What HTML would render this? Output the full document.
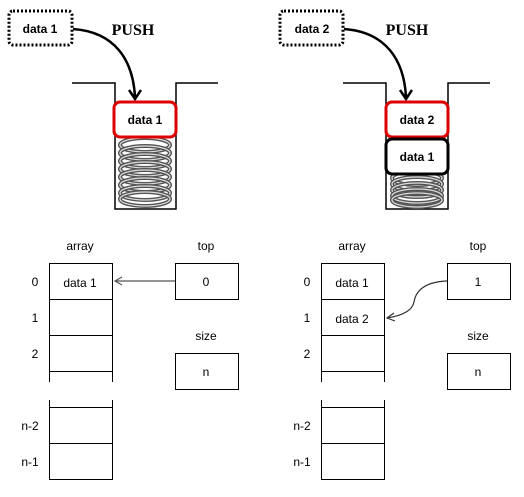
<!DOCTYPE html>
<html><head><meta charset="utf-8"><style>
html,body{margin:0;padding:0;background:#fff}
svg{display:block}
text{font-family:"Liberation Sans","DejaVu Sans",sans-serif}
</style></head><body>
<svg width="524" height="497" viewBox="0 0 524 497" xmlns="http://www.w3.org/2000/svg">
<defs>
<g id="coil"><ellipse cx="0" cy="0" rx="25" ry="7" fill="none" stroke="#555" stroke-width="4"/><ellipse cx="0" cy="0" rx="25" ry="7" fill="none" stroke="#ddd" stroke-width="1.2"/></g>
</defs>
<!-- LEFT TOP -->
<rect x="9" y="11" width="63" height="34" rx="4" fill="#fff" stroke="#000" stroke-width="3" stroke-dasharray="2,2"/>
<text x="40" y="33" font-size="12" font-weight="bold" text-anchor="middle">data 1</text>
<text x="133" y="35" font-size="16" font-weight="bold" text-anchor="middle" style="font-family:'Liberation Serif',serif">PUSH</text>
<path d="M73,29 C115,32 133,60 135,97" fill="none" stroke="#000" stroke-width="2.5"/>
<path d="M129,90 L135,99 L141,90" fill="none" stroke="#000" stroke-width="2.5"/>
<path d="M72,83 H115 V209 H176 V83 H218" fill="none" stroke="#000" stroke-width="1.5"/>
<g transform="translate(145,0)">
<use href="#coil" y="145"/><use href="#coil" y="153"/><use href="#coil" y="161"/><use href="#coil" y="169"/><use href="#coil" y="177"/><use href="#coil" y="185"/><use href="#coil" y="193"/><use href="#coil" y="199"/>
</g>
<rect x="114" y="102" width="62" height="35" rx="6" fill="#fff" stroke="#d00" stroke-width="3"/>
<text x="145" y="124" font-size="12" font-weight="bold" text-anchor="middle">data 1</text>
<!-- RIGHT TOP -->
<rect x="280" y="11" width="63" height="34" rx="4" fill="#fff" stroke="#000" stroke-width="3" stroke-dasharray="2,2"/>
<text x="312" y="33" font-size="12" font-weight="bold" text-anchor="middle">data 2</text>
<text x="407" y="35" font-size="16" font-weight="bold" text-anchor="middle" style="font-family:'Liberation Serif',serif">PUSH</text>
<path d="M344,29 C386,32 404,60 406,97" fill="none" stroke="#000" stroke-width="2.5"/>
<path d="M400,90 L406,99 L412,90" fill="none" stroke="#000" stroke-width="2.5"/>
<path d="M343,83 H386 V209 H448 V83 H490" fill="none" stroke="#000" stroke-width="1.5"/>
<g transform="translate(417,0)">
<use href="#coil" y="178"/><use href="#coil" y="184"/><use href="#coil" y="190"/><use href="#coil" y="196"/><use href="#coil" y="200"/>
</g>
<rect x="386" y="102" width="62" height="35" rx="6" fill="#fff" stroke="#d00" stroke-width="3"/>
<text x="417" y="124" font-size="12" font-weight="bold" text-anchor="middle">data 2</text>
<rect x="386" y="139" width="62" height="35" rx="6" fill="#fff" stroke="#000" stroke-width="3"/>
<text x="417" y="161" font-size="12" font-weight="bold" text-anchor="middle">data 1</text>
<!-- BOTTOM LEFT -->
<g font-size="12" fill="#000">
<text x="80" y="250" text-anchor="middle">array</text>
<text x="206" y="250" text-anchor="middle">top</text>
<text x="206" y="340" text-anchor="middle">size</text>
<text x="35" y="286" text-anchor="middle">0</text>
<text x="35" y="322" text-anchor="middle">1</text>
<text x="35" y="358" text-anchor="middle">2</text>
<text x="30" y="430" text-anchor="middle">n-2</text>
<text x="30" y="466" text-anchor="middle">n-1</text>
<text x="80" y="287" text-anchor="middle">data 1</text>
<text x="206" y="286" text-anchor="middle">0</text>
<text x="206" y="376" text-anchor="middle">n</text>
</g>
<g fill="none" stroke="#000" stroke-width="1">
<path d="M49.5,382 V263.5 H112.5 V382 M49.5,299.5 H112.5 M49.5,335.5 H112.5 M49.5,371.5 H112.5"/>
<path d="M49.5,400 V479.5 H112.5 V400 M49.5,407.5 H112.5 M49.5,443.5 H112.5"/>
<rect x="175.5" y="263.5" width="63" height="36"/>
<rect x="175.5" y="353.5" width="63" height="36"/>
<path d="M175,281 H116 M122,277 L115,281 L122,285" stroke="#555" stroke-width="1.2"/>
</g>
<!-- BOTTOM RIGHT -->
<g font-size="12" fill="#000">
<text x="352" y="250" text-anchor="middle">array</text>
<text x="478" y="250" text-anchor="middle">top</text>
<text x="478" y="340" text-anchor="middle">size</text>
<text x="307" y="286" text-anchor="middle">0</text>
<text x="307" y="322" text-anchor="middle">1</text>
<text x="307" y="358" text-anchor="middle">2</text>
<text x="302" y="430" text-anchor="middle">n-2</text>
<text x="302" y="466" text-anchor="middle">n-1</text>
<text x="352" y="287" text-anchor="middle">data 1</text>
<text x="352" y="323" text-anchor="middle">data 2</text>
<text x="478" y="286" text-anchor="middle">1</text>
<text x="478" y="376" text-anchor="middle">n</text>
</g>
<g fill="none" stroke="#000" stroke-width="1">
<path d="M321.5,382 V263.5 H384.5 V382 M321.5,299.5 H384.5 M321.5,335.5 H384.5 M321.5,371.5 H384.5"/>
<path d="M321.5,400 V479.5 H384.5 V400 M321.5,407.5 H384.5 M321.5,443.5 H384.5"/>
<rect x="447.5" y="263.5" width="63" height="36"/>
<rect x="447.5" y="353.5" width="63" height="36"/>
<path d="M447,281 C420,282 415,295 414,302 C412,312 400,316 387,318" stroke="#333" stroke-width="1.2"/>
<path d="M394,313 L387,318 L395,321" stroke="#333" stroke-width="1.2"/>
</g>
</svg>
</body></html>
